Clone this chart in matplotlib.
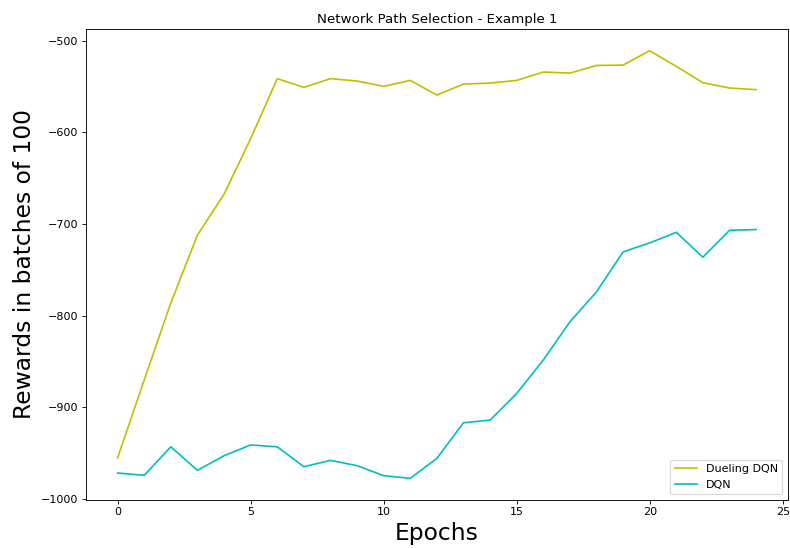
import matplotlib
matplotlib.use("Agg")
import matplotlib.pyplot as plt

epochs = list(range(25))
dueling_dqn = [-955, -870, -786, -712, -667.5, -606.8, -541.4, -550.9, -541.4, -544,
               -549.8, -543.3, -559.3, -547.3, -546.2, -543.3, -534.2, -535.3, -527,
               -526.6, -510.9, -528, -545.8, -551.6, -553.4]
dqn = [-971.6, -974.1, -943, -968.7, -952.7, -941, -943, -964.7, -957.8, -963.6,
       -974.5, -977.4, -955.6, -916.8, -913.9, -884.8, -848.4, -806.7, -774,
       -730.4, -720.6, -709, -736.2, -706.8, -706]

fig = plt.figure(figsize=(790 / 80, 548 / 80), dpi=80)
ax = fig.add_axes([0.1085, 0.0881, 0.889, 0.8584])
ax.plot(epochs, dueling_dqn, color='y', label='Dueling DQN')
ax.plot(epochs, dqn, color='c', label='DQN')
ax.set_title('Network Path Selection - Example 1')
ax.set_xlabel('Epochs', fontsize=21)
ax.set_ylabel('Rewards in batches of 100', fontsize=21)
ax.legend(loc='lower right')
fig.savefig('out.png', dpi=80)
